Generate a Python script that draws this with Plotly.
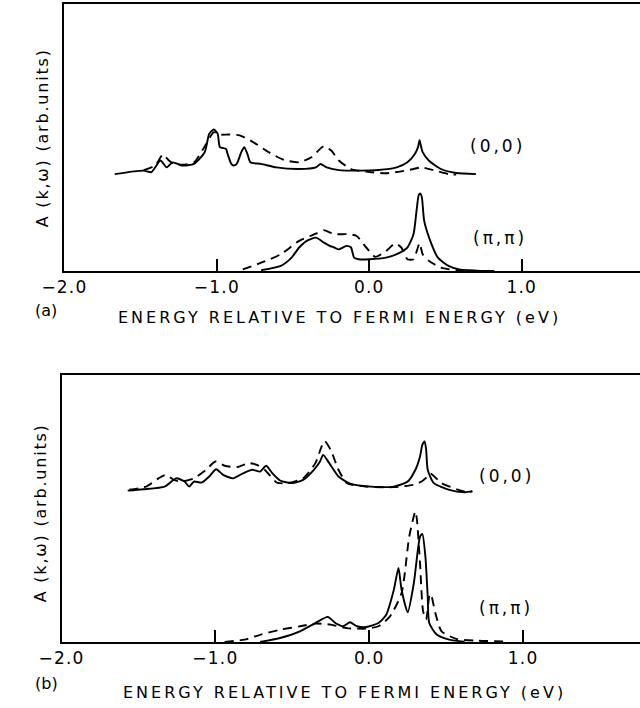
import plotly.graph_objects as go

# ---------------- data (energy in eV, A(k,w) in arb. units) ----------------
# Panel (a)
a00_solid_e = [-1.67, -1.48, -1.43, -1.37, -1.33, -1.29, -1.23, -1.15, -1.08, -1.05, -1.02, -0.995, -0.98,
               -0.94, -0.93, -0.905, -0.89, -0.87, -0.84, -0.82, -0.80, -0.78, -0.71, -0.61, -0.46, -0.35,
               -0.32, -0.28, -0.20, -0.07, 0.06, 0.18, 0.25, 0.30, 0.32, 0.33, 0.34, 0.35, 0.39, 0.47, 0.57, 0.70]
a00_solid_A = [36.3, 37.6, 37.0, 41.4, 38.8, 40.7, 39.5, 40.1, 44.5, 51.4, 53.0, 51.4, 46.4,
               45.7, 43.9, 40.1, 39.5, 40.1, 44.5, 46.4, 43.9, 40.7, 40.1, 38.8, 38.2, 38.8,
               40.1, 38.8, 37.8, 37.6, 37.8, 38.8, 40.7, 43.9, 46.5, 49.0, 46.5, 44.5, 41.4, 38.2, 36.7, 36.3]
a00_dash_e = [-1.48, -1.405, -1.354, -1.315, -1.28, -1.23, -1.15, -1.07, -1.02, -0.98, -0.92, -0.85, -0.76,
              -0.66, -0.56, -0.46, -0.38, -0.30, -0.25, -0.20, -0.12, -0.02, 0.11, 0.21, 0.29, 0.34,
              0.42, 0.52, 0.57]
a00_dash_A = [37.8, 39.5, 43.6, 41.4, 40.1, 39.8, 40.7, 47.6, 52.0, 51.1, 51.1, 50.8, 48.2,
              44.5, 41.6, 40.7, 42.6, 46.7, 45.1, 41.4, 38.2, 37.2, 36.6, 37.3, 38.2, 38.8,
              37.8, 36.3, 36.1]
app_solid_e = [-0.71, -0.58, -0.51, -0.46, -0.41, -0.35, -0.30, -0.26, -0.23, -0.20, -0.15, -0.12, -0.10,
               -0.07, 0.0, 0.11, 0.18, 0.25, 0.29, 0.31, 0.325, 0.335, 0.345, 0.36, 0.40, 0.45, 0.52, 0.59, 0.77]
app_solid_A = [0.3, 1.9, 5.0, 8.8, 11.3, 12.5, 10.7, 9.4, 8.8, 8.1, 9.4, 8.8, 5.0,
               4.4, 4.4, 5.0, 6.3, 8.8, 13.8, 22.6, 28.6, 29.0, 27.6, 18.8, 11.3, 5.0, 1.9, 0.6, 0.0]
app_dash_e = [-0.83, -0.71, -0.58, -0.46, -0.35, -0.30, -0.23, -0.15, -0.085, -0.02, 0.04, 0.11, 0.17,
              0.21, 0.25, 0.29, 0.33, 0.35, 0.39, 0.47, 0.57, 0.83]
app_dash_A = [0.6, 3.1, 6.3, 11.3, 14.0, 15.3, 13.8, 13.8, 13.2, 8.8, 5.3, 7.5, 10.3,
              8.8, 4.4, 4.4, 10.4, 6.3, 3.8, 1.3, 0.3, 0.0]

# Panel (b)
b00_solid_e = [-1.57, -1.47, -1.33, -1.255, -1.20, -1.17, -1.14, -1.09, -1.04, -0.995, -0.95, -0.885, -0.82,
               -0.76, -0.71, -0.67, -0.63, -0.58, -0.50, -0.43, -0.36, -0.32, -0.30, -0.26, -0.20, -0.12,
               0.01, 0.16, 0.25, 0.30, 0.33, 0.345, 0.36, 0.37, 0.38, 0.42, 0.52, 0.62, 0.67]
b00_solid_A = [56.7, 57.2, 58.2, 61.3, 60.1, 58.2, 60.1, 59.7, 62.0, 64.7, 62.6, 61.3, 63.2,
               64.5, 63.8, 66.0, 63.2, 60.5, 59.5, 60.7, 64.5, 67.6, 70.1, 67.0, 62.0, 59.2,
               58.2, 58.2, 60.1, 64.5, 69.5, 73.8, 75.1, 72.0, 64.5, 59.5, 57.0, 56.1, 56.4]
b00_dash_e = [-1.56, -1.45, -1.37, -1.32, -1.27, -1.22, -1.14, -1.06, -1.0, -0.94, -0.86, -0.78, -0.73,
              -0.68, -0.60, -0.53, -0.43, -0.35, -0.31, -0.29, -0.25, -0.20, -0.145, -0.02, 0.16, 0.29,
              0.34, 0.38, 0.40, 0.47, 0.57, 0.645, 0.67]
b00_dash_A = [57.0, 58.2, 61.3, 62.6, 60.7, 60.1, 61.3, 64.5, 67.6, 66.0, 65.5, 67.0, 66.3,
              64.5, 59.7, 59.5, 61.3, 67.0, 73.2, 75.3, 71.9, 64.5, 59.5, 58.2, 58.0, 58.9,
              60.1, 62.0, 63.0, 59.5, 57.2, 56.0, 56.5]
bpp_solid_e = [-0.71, -0.58, -0.45, -0.35, -0.27, -0.22, -0.17, -0.125, -0.08, -0.02, 0.06, 0.11, 0.16,
               0.19, 0.21, 0.25, 0.29, 0.33, 0.345, 0.365, 0.38, 0.39, 0.44, 0.52, 0.62]
bpp_solid_A = [0.0, 1.5, 4.0, 7.1, 9.4, 7.1, 5.9, 7.4, 5.9, 5.6, 7.1, 10.2, 19.6,
               27.7, 19.6, 11.1, 22.1, 39.5, 40.5, 32.0, 17.1, 7.1, 2.7, 0.9, 0.1]
bpp_dash_e = [-0.94, -0.81, -0.71, -0.58, -0.45, -0.35, -0.25, -0.145, -0.02, 0.06, 0.135, 0.21, 0.26,
              0.30, 0.31, 0.33, 0.35, 0.37, 0.39, 0.40, 0.43, 0.47, 0.57, 0.70, 0.875]
bpp_dash_A = [0.0, 0.9, 2.7, 4.6, 5.9, 6.9, 6.5, 5.2, 5.0, 5.9, 9.6, 18.3, 39.5,
              48.9, 45.8, 29.6, 11.5, 8.4, 17.1, 18.0, 10.8, 4.0, 1.1, 0.5, 0.2]

tick_vals = [-2.0, -1.0, 0.0, 1.0]
tick_text = ["\u22122.0", "\u22121.0", "0.0", "1.0"]
x_title = "ENERGY RELATIVE TO FERMI ENERGY (eV)"
y_title = "A (k,\u03c9) (arb.units)"
k_labels = ["(0,0)", "(\u03c0,\u03c0)"]

FONT = "DejaVu Sans"
W, H = 640, 708

fig = go.Figure()

def add(xs, ys, dash, xa, ya):
    fig.add_trace(go.Scatter(x=xs, y=ys, mode="lines", xaxis=xa, yaxis=ya,
                             line=dict(color="black", width=1.9, dash=dash, shape="spline", smoothing=0.6),
                             showlegend=False, hoverinfo="skip"))

DASH = "9px,6px"
add(a00_solid_e, a00_solid_A, "solid", "x", "y")
add(a00_dash_e, a00_dash_A, DASH, "x", "y")
add(app_solid_e, app_solid_A, "solid", "x", "y")
add(app_dash_e, app_dash_A, DASH, "x", "y")
add(b00_solid_e, b00_solid_A, "solid", "x2", "y2")
add(b00_dash_e, b00_dash_A, DASH, "x2", "y2")
add(bpp_solid_e, bpp_solid_A, "solid", "x2", "y2")
add(bpp_dash_e, bpp_dash_A, DASH, "x2", "y2")

def sp(t, s):
    return '<span style="letter-spacing:%spx">%s</span>' % (s, t)

xcommon = dict(showline=True, linecolor="black", linewidth=2, mirror=True,
               ticks="inside", ticklen=12, tickwidth=1.5, tickcolor="black",
               tickvals=tick_vals, ticktext=[sp(t, 1.2) for t in tick_text],
               showgrid=False, zeroline=False,
               tickfont=dict(family=FONT, size=17, color="black"))
ycommon = dict(showline=True, linecolor="black", linewidth=2, mirror=False,
               showticklabels=False, ticks="", showgrid=False, zeroline=False, range=[0, 100])

fig.update_layout(
    width=W, height=H, margin=dict(l=0, r=0, t=0, b=0),
    paper_bgcolor="white", plot_bgcolor="white",
    xaxis=dict(domain=[43 / W, 1], range=[-2.0, 1.776], anchor="y", **xcommon),
    yaxis=dict(domain=[1 - 271 / H, 1 - 4 / H], anchor="x", **ycommon),
    xaxis2=dict(domain=[40 / W, 1], range=[-2.0, 1.76], anchor="y2", **xcommon),
    yaxis2=dict(domain=[1 - 642 / H, 1 - 375 / H], anchor="x2", **ycommon),
)

ann = []
# curve labels
ann.append(dict(x=0.84, y=47, xref="x", yref="y", text=sp(k_labels[0], 3)))
ann.append(dict(x=0.86, y=12.5, xref="x", yref="y", text=sp(k_labels[1], 3)))
ann.append(dict(x=0.89, y=62, xref="x2", yref="y2", text=sp(k_labels[0], 3)))
ann.append(dict(x=0.89, y=12.7, xref="x2", yref="y2", text=sp(k_labels[1], 3)))
for a in ann:
    a.update(showarrow=False, xanchor="center", yanchor="middle",
             font=dict(family=FONT, size=17, color="black"))

for (x, y, txt, size, ang) in [
    (328, 317, sp(x_title, 3.0), 16, 0),
    (334, 692, sp(x_title, 3.0), 16, 0),
    (24, 310, "(a)", 16, 0),
    (24, 683, "(b)", 16, 0),
    (20, 138, sp(y_title, 1.8), 16, -90),
    (18, 513, sp(y_title, 1.8), 16, -90),
]:
    ann.append(dict(x=x / W, y=1 - y / H, xref="paper", yref="paper", text=txt, showarrow=False,
                    xanchor="center", yanchor="middle", textangle=ang,
                    font=dict(family=FONT, size=size, color="black")))

fig.update_layout(annotations=ann)
fig.write_html("out.html", config={"displayModeBar": False},
               post_script="document.body.style.margin='0';")
